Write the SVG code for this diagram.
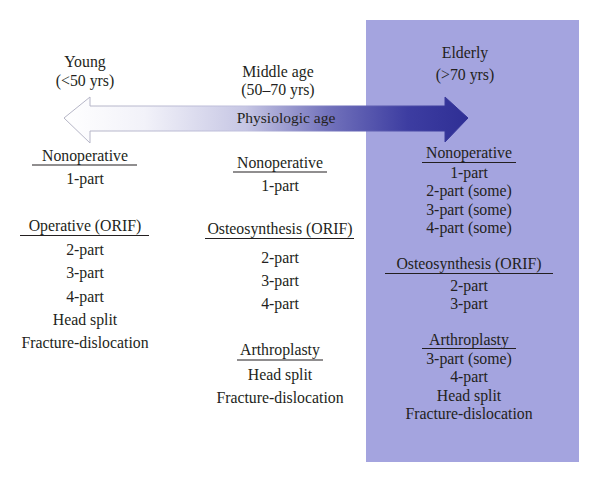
<svg xmlns="http://www.w3.org/2000/svg" width="600" height="482" viewBox="0 0 600 482">
<defs>
<linearGradient id="ag" gradientUnits="userSpaceOnUse" x1="64" y1="0" x2="468" y2="0">
<stop offset="0" stop-color="#ffffff"/>
<stop offset="0.2" stop-color="#f2f2f9"/>
<stop offset="0.45" stop-color="#c6c6e4"/>
<stop offset="0.65" stop-color="#7373bc"/>
<stop offset="0.85" stop-color="#3d3da1"/>
<stop offset="1" stop-color="#2f2f95"/>
</linearGradient>
<linearGradient id="sg" gradientUnits="userSpaceOnUse" x1="64" y1="0" x2="468" y2="0">
<stop offset="0" stop-color="#b4b4c4"/>
<stop offset="0.45" stop-color="#c0c0de"/>
<stop offset="0.7" stop-color="#6a6ab8"/>
<stop offset="1" stop-color="#2f2f95"/>
</linearGradient>
<style>
text{font-family:"Liberation Serif","Times New Roman",serif;font-size:15.8px;fill:#231f20;text-anchor:middle}
.ul{stroke:#231f20;stroke-width:1.2}
</style>
</defs>
<rect id="elderly-bg" x="366" y="20" width="213" height="442" fill="#a4a4df"/>
<g id="connectors">
<path d="M64 118 L90 97 L90 106 L445 106 L445 97 L468 118 L445 142 L445 131 L90 131 L90 143 Z" fill="url(#ag)" stroke="url(#sg)" stroke-width="1"/>
<text x="286" y="123" style="font-size:15.5px">Physiologic age</text>
</g>
<g id="young">
<text x="85" y="67">Young</text>
<text x="85" y="86">(&lt;50 yrs)</text>
<text x="85" y="161">Nonoperative</text>
<line class="ul" x1="32" y1="165" x2="137" y2="165"/>
<text x="85" y="184">1-part</text>
<text x="85" y="231">Operative (ORIF)</text>
<line class="ul" x1="20" y1="235.5" x2="149" y2="235.5"/>
<text x="85" y="255">2-part</text>
<text x="85" y="278">3-part</text>
<text x="85" y="302">4-part</text>
<text x="85" y="325">Head split</text>
<text x="85" y="348">Fracture-dislocation</text>
</g>
<g id="middle">
<text x="278" y="77">Middle age</text>
<text x="278" y="95">(50–70 yrs)</text>
<text x="280" y="168">Nonoperative</text>
<line class="ul" x1="233" y1="172" x2="327" y2="172"/>
<text x="280" y="191">1-part</text>
<text x="280" y="234">Osteosynthesis (ORIF)</text>
<line class="ul" x1="205" y1="238.5" x2="354" y2="238.5"/>
<text x="280" y="263">2-part</text>
<text x="280" y="286">3-part</text>
<text x="280" y="309">4-part</text>
<text x="280" y="355">Arthroplasty</text>
<line class="ul" x1="237" y1="360" x2="323" y2="360"/>
<text x="280" y="380">Head split</text>
<text x="280" y="403">Fracture-dislocation</text>
</g>
<g id="elderly">
<text x="465" y="58">Elderly</text>
<text x="465" y="80">(&gt;70 yrs)</text>
<text x="469" y="158">Nonoperative</text>
<line class="ul" x1="422" y1="162.5" x2="516" y2="162.5"/>
<text x="469" y="178">1-part</text>
<text x="469" y="196">2-part (some)</text>
<text x="469" y="215">3-part (some)</text>
<text x="469" y="233">4-part (some)</text>
<text x="469" y="269">Osteosynthesis (ORIF)</text>
<line class="ul" x1="385" y1="273.5" x2="553" y2="273.5"/>
<text x="469" y="291">2-part</text>
<text x="469" y="309">3-part</text>
<text x="469" y="345">Arthroplasty</text>
<line class="ul" x1="422" y1="348.5" x2="516" y2="348.5"/>
<text x="469" y="364">3-part (some)</text>
<text x="469" y="382">4-part</text>
<text x="469" y="401">Head split</text>
<text x="469" y="419">Fracture-dislocation</text>
</g>
</svg>
